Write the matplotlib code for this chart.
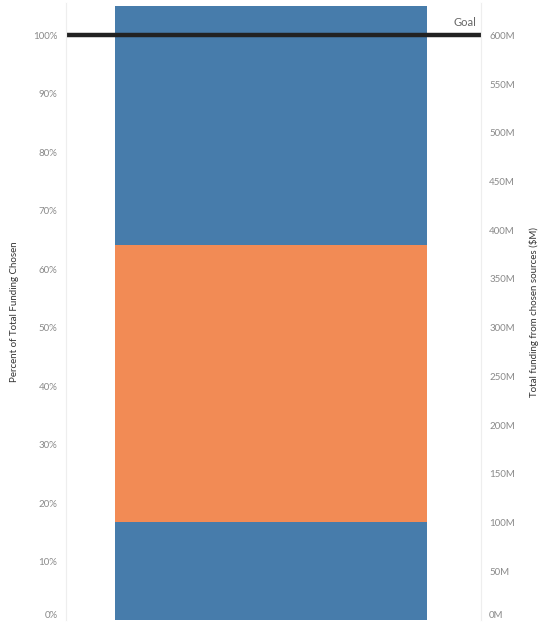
import matplotlib.pyplot as plt

# stacked segments, bottom to top (percent of total funding chosen)
segments = ['Bottom', 'Middle', 'Top']
seg_pct = [16.7, 47.5, 40.8]
seg_colors = ['#477cab', '#f28b55', '#477cab']
goal_pct = 100
left_ticks = [0, 10, 20, 30, 40, 50, 60, 70, 80, 90, 100]
right_ticks = [0, 50, 100, 150, 200, 250, 300, 350, 400, 450, 500, 550, 600]
total_goal_m = 600

plt.rcParams['font.family'] = ['Lato', 'DejaVu Sans']

fig = plt.figure(figsize=(5.39, 6.25), dpi=100)
ax = fig.add_axes([0.122, 0.008, 0.770, 0.987])

bottom = 0
for name, v, c in zip(segments, seg_pct, seg_colors):
    ax.bar(-0.005, v, width=0.752, bottom=bottom, color=c, linewidth=0)
    bottom += v

ax.axhline(goal_pct, color='#222222', linewidth=3.2, zorder=3)
ax.text(0.49, goal_pct + 1.2, 'Goal', ha='right', va='bottom', fontsize=8, color='#666666')

ax.set_xlim(-0.5, 0.5)
ax.set_ylim(0, 105.5)
ax.set_xticks([])
ax.set_yticks(left_ticks)
ax.set_yticklabels([f'{t}%' for t in left_ticks])
ax.tick_params(axis='y', length=0, labelsize=7, labelcolor='#8a8a8a', pad=6)
ax.set_ylabel('Percent of Total Funding Chosen', fontsize=7, color='#333333', labelpad=10)

ax2 = ax.twinx()
ax2.set_ylim(0, 105.5 * total_goal_m / 100)
ax2.set_yticks(right_ticks)
ax2.set_yticklabels([f'{t}M' for t in right_ticks])
ax2.tick_params(axis='y', length=0, labelsize=7, labelcolor='#8a8a8a', pad=6)
ax2.set_ylabel('Total funding from chosen sources ($M)', fontsize=7, color='#333333', labelpad=10)

# bottom labels sit just above the baseline
ax.get_yticklabels()[0].set_va('bottom')
ax2.get_yticklabels()[0].set_va('bottom')

for a in (ax, ax2):
    for s in a.spines.values():
        s.set_visible(False)
    a.spines['left'].set_visible(True)
    a.spines['right'].set_visible(True)
    a.spines['left'].set_color('#eeeeee')
    a.spines['right'].set_color('#eeeeee')

fig.savefig('out.png', dpi=100)
